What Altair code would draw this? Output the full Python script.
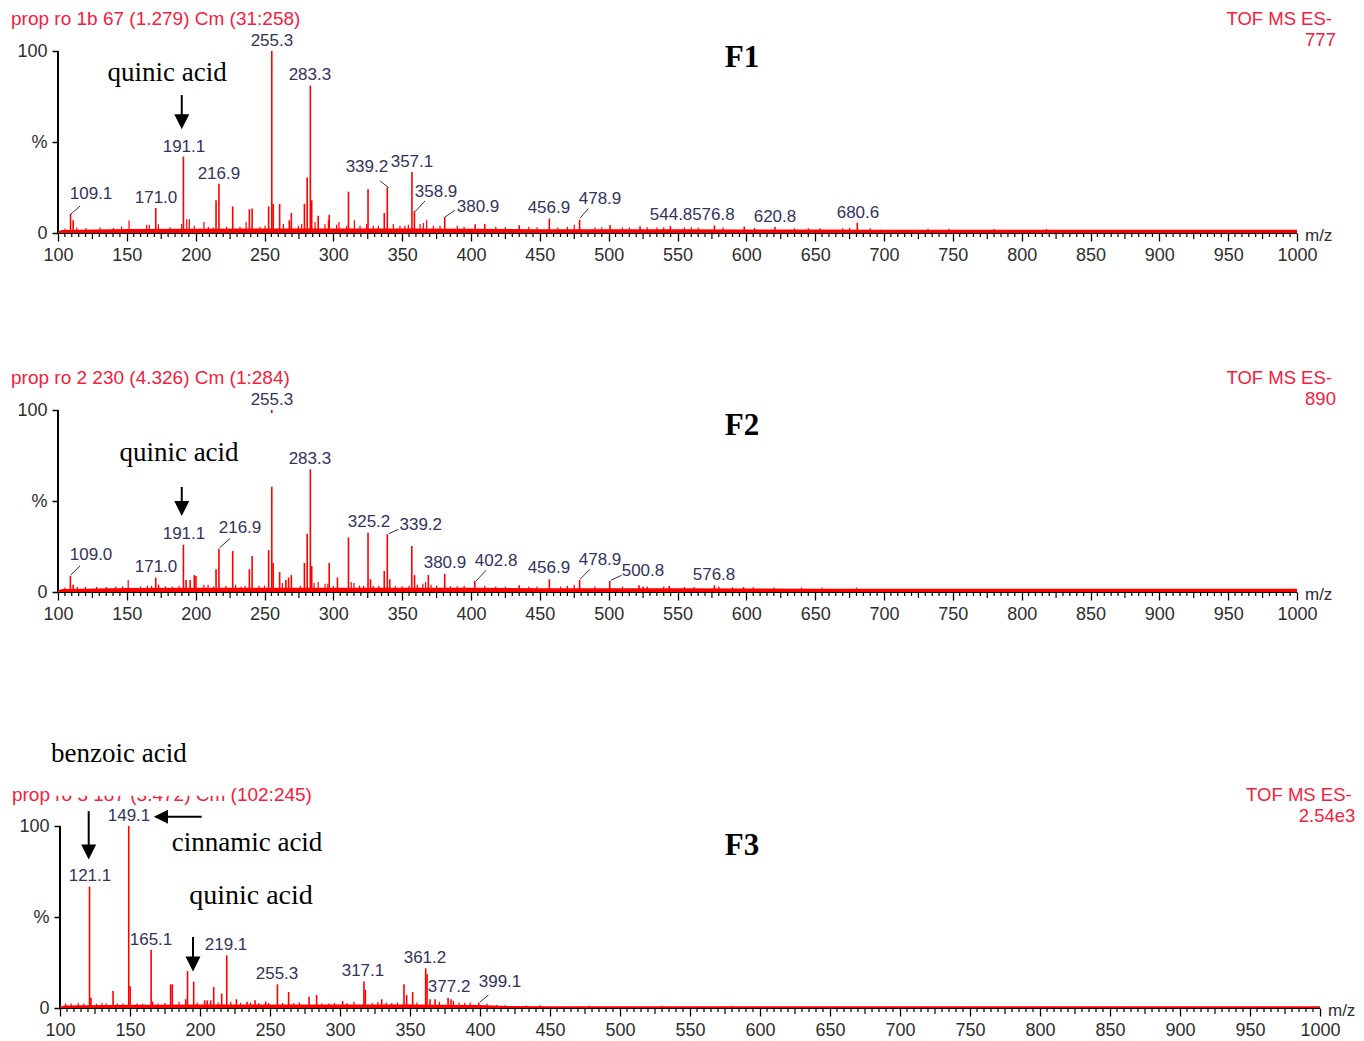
import altair as alt
import pandas as pd

RED = "#ff0000"
TITLE_RED = "#f4203e"
LABEL_COL = "#33335c"
AXIS_COL = "#2e2e2e"
SANS = "Liberation Sans"
SERIF = "Liberation Serif"

x_label_values = list(range(100, 1001, 50))
x_minor_ticks = [v for v in range(105, 1000, 5) if v % 50 != 0]
y_tick_values = [0, 50, 100]

# ---------------- F1 ----------------
f1_peaks = [(109.1, 10.5), (111.0, 7.0), (171.0, 13.7), (191.1, 42.0), (214.8, 18.0), (216.9, 27.0),
            (226.9, 14.6), (239.0, 13.0), (241.0, 13.5), (253.0, 14.6), (255.3, 100.0), (256.3, 16.0),
            (261.0, 16.0), (268.0, 7.0), (269.5, 11.0), (279.0, 16.0), (281.0, 30.5), (283.3, 81.0),
            (284.3, 18.0), (289.0, 9.5), (297.0, 10.0), (311.0, 22.7), (325.2, 24.0), (337.0, 11.0),
            (339.2, 25.0), (357.1, 33.5), (358.9, 12.0), (380.9, 8.8), (403.0, 4.8), (410.0, 5.0),
            (435.0, 4.2), (456.9, 7.9), (478.9, 7.3), (501.0, 4.4), (522.8, 3.7), (544.8, 3.8),
            (576.8, 4.2), (598.5, 3.5), (620.8, 3.3), (653.5, 2.5), (680.6, 5.7), (698.0, 1.8)]
f1_minor = [(105.1, 2.5), (113.6, 3.0), (120.3, 2.8), (130.5, 3.0), (140.2, 2.8), (146.2, 3.6), (151.6, 6.8),
            (164.4, 4.5), (166.3, 4.5), (172.9, 4.8), (181.4, 3.2), (189.8, 5.0), (193.5, 7.5), (195.4, 7.5),
            (199.0, 4.0), (206.0, 6.0), (209.2, 3.5), (212.8, 3.0), (222.5, 3.5), (232.2, 3.5), (236.6, 6.0),
            (246.7, 3.5), (250.4, 4.0), (263.7, 5.0), (274.6, 4.0), (277.0, 5.0), (286.7, 6.0), (293.9, 5.0),
            (296.4, 7.0), (302.4, 4.5), (304.1, 6.0), (309.7, 4.0), (315.3, 7.0), (319.4, 4.0), (324.2, 5.0),
            (329.0, 4.0), (332.7, 4.0), (343.6, 5.0), (348.4, 4.0), (352.0, 4.0), (354.5, 4.5), (363.0, 5.0),
            (365.4, 5.5), (367.8, 7.0), (372.6, 4.0), (377.5, 4.0), (390.0, 4.0), (395.0, 3.5), (418.0, 3.5),
            (425.0, 3.2), (442.0, 3.5), (448.0, 3.2), (463.0, 3.0), (470.0, 3.5), (475.0, 4.5), (490.0, 3.0),
            (495.0, 3.2), (510.0, 3.0), (515.0, 3.0), (528.0, 3.2), (535.0, 3.0), (540.0, 3.2), (555.0, 3.0),
            (560.0, 3.2), (565.0, 3.0), (583.0, 3.0), (606.0, 2.8), (635.0, 2.6), (645.0, 2.6), (670.0, 2.6),
            (675.0, 2.8), (690.0, 2.6), (732.0, 2.4), (747.0, 2.4), (780.0, 2.3), (818.0, 2.3)]
f1_noise_mz = [100, 103, 150, 200, 250, 300, 350, 400, 450, 500, 550, 600, 650, 700, 750, 800, 850, 900, 950, 1000]
f1_noise_h = [0.8, 1.6, 2.2, 2.4, 2.5, 2.5, 2.5, 2.3, 2.1, 2.0, 2.0, 1.9, 1.9, 1.8, 1.8, 1.8, 1.8, 1.8, 1.8, 1.8]
f1_labels = [("255.3", 255.4, 105.5), ("283.3", 283.0, 86.8), ("191.1", 191.5, 47.3), ("216.9", 216.9, 32.4),
             ("109.1", 124.0, 21.4), ("171.0", 171.2, 19.2), ("339.2", 324.4, 36.3), ("357.1", 357.1, 39.0),
             ("358.9", 374.6, 22.5), ("380.9", 405.1, 14.3), ("456.9", 456.6, 13.7), ("478.9", 493.7, 18.7),
             ("544.8", 545.3, 9.9), ("576.8", 576.1, 9.9), ("620.8", 620.8, 8.8), ("680.6", 681.1, 11.0)]
f1_leaders = [(109.2, 10.3, 116.0, 14.8), (333.9, 28.6, 340.2, 24.9), (359.3, 11.7, 366.6, 17.6),
              (381.1, 8.8, 388.4, 12.5), (479.2, 8.1, 485.2, 13.4)]
f1_notes = [("quinic acid", 179.2, 87.9, 27)]
f1_shafts = [(189.9, 75.8, 189.9, 61.1)]
f1_heads = [(189.9, 61.1, "M-1,-1L1,-1L0,1Z", 225)]
f1_titles_left = [("prop ro 1b 67 (1.279) Cm (31:258)", 65.86, 117.6)]
f1_titles_right = [("TOF MS ES-", 1025.4, 117.6), ("777", 1028.3, 106.0)]
f1_tag = [("F1", 596.8, 96.2)]
f1_mz_text = [("m/z", 1005.8, -1.6)]
f1_masks = []

# ---------------- F2 ----------------
f2_peaks = [(109.0, 8.8), (111.0, 4.0), (171.0, 7.9), (173.0, 4.0), (191.1, 26.0), (193.0, 6.6), (196.0, 6.6),
            (199.0, 9.3), (200.2, 8.8), (214.8, 12.5), (216.9, 23.8), (226.9, 22.5), (239.0, 12.5),
            (241.0, 19.8), (253.0, 23.0), (255.3, 100.0), (256.3, 16.0), (261.0, 11.0), (265.5, 6.6),
            (267.5, 8.0), (269.5, 9.3), (279.0, 16.0), (281.0, 32.0), (283.3, 67.4), (284.3, 14.3),
            (297.0, 16.0), (303.0, 8.0), (311.0, 30.0), (325.2, 32.6), (327.0, 7.0), (337.0, 11.5),
            (339.2, 31.7), (341.0, 7.0), (357.0, 25.3), (359.0, 9.3), (369.0, 9.3), (380.9, 10.0),
            (402.8, 6.0), (435.0, 3.7), (456.9, 7.0), (478.9, 6.6), (500.8, 6.0), (522.0, 3.7), (525.0, 3.0),
            (544.0, 3.3), (576.8, 3.7), (598.0, 2.7)]
f2_minor = [(105, 2.5), (114, 2.8), (120, 2.8), (128, 2.8), (135, 2.8), (142, 3.0), (147, 3.2), (151, 6.6),
            (160, 3.0), (165, 3.5), (168, 3.5), (178, 3.2), (183, 3.0), (188, 3.5), (206, 4.0), (209, 4.0),
            (213, 3.0), (222, 3.5), (229, 4.0), (233, 3.0), (236, 3.5), (246, 3.5), (250, 3.5), (263, 5.0),
            (276, 3.5), (286, 5.0), (289, 5.5), (294, 4.5), (296, 4.5), (300, 3.5), (313, 5.5), (315, 5.0),
            (319, 3.5), (322, 3.5), (329, 3.5), (333, 3.5), (345, 3.5), (350, 3.2), (355, 3.5), (361, 4.0),
            (365, 4.5), (367, 5.5), (371, 4.0), (375, 3.5), (385, 3.2), (390, 3.2), (395, 3.5), (410, 3.5),
            (418, 3.0), (425, 3.0), (442, 3.0), (448, 3.0), (465, 3.0), (470, 3.5), (475, 4.0), (490, 3.0),
            (510, 3.0), (528, 3.0), (540, 3.0), (555, 2.8), (562, 2.8), (580, 3.0), (590, 2.6), (605, 2.6),
            (620, 2.5), (640, 2.4), (655, 2.4), (680, 2.4)]
f2_noise_mz = [100, 103, 150, 200, 250, 300, 350, 400, 450, 500, 550, 600, 650, 700, 750, 800, 850, 900, 950, 1000]
f2_noise_h = [0.8, 1.6, 2.2, 2.4, 2.4, 2.4, 2.4, 2.3, 2.1, 2.0, 2.0, 1.9, 1.8, 1.8, 1.8, 1.8, 1.8, 1.8, 1.8, 1.8]
f2_labels = [("255.3", 255.4, 105.5), ("283.3", 283.0, 73.1), ("191.1", 191.5, 31.9), ("216.9", 232.2, 35.2),
             ("109.0", 124.0, 20.3), ("171.0", 171.2, 13.7), ("325.2", 325.9, 38.5), ("339.2", 363.5, 36.8),
             ("380.9", 381.1, 15.9), ("402.8", 418.2, 17.0), ("456.9", 456.6, 13.2), ("478.9", 493.7, 17.6),
             ("500.8", 524.9, 11.5), ("576.8", 576.5, 9.3)]
f2_leaders = [(109.2, 9.3, 116.0, 14.3), (217.4, 24.3, 224.9, 29.3), (340.2, 32.0, 347.2, 34.4),
              (403.6, 6.0, 410.9, 11.9), (479.2, 7.0, 486.4, 12.5), (501.4, 6.4, 509.5, 9.2)]
f2_notes = [("quinic acid", 187.9, 76.4, 27)]
f2_shafts = [(189.9, 57.7, 189.9, 45.9)]
f2_heads = [(189.9, 45.9, "M-1,-1L1,-1L0,1Z", 225)]
f2_titles_left = [("prop ro 2 230 (4.326) Cm (1:284)", 65.86, 117.6)]
f2_titles_right = [("TOF MS ES-", 1025.4, 117.6), ("890", 1028.3, 106.0)]
f2_tag = [("F2", 596.8, 91.2)]
f2_mz_text = [("m/z", 1005.8, -1.6)]
f2_masks = [(110.0, 57.8, 262.0, 98.3)]

# ---------------- F3 ----------------
f3_peaks = [(121.1, 66.7), (122.1, 5.7), (137.9, 9.3), (149.1, 100.0), (150.1, 12.0), (165.1, 31.9),
            (166.1, 3.5), (179.0, 13.0), (180.2, 13.0), (189.8, 4.8), (191.1, 20.3), (195.5, 14.5),
            (203.3, 4.2), (205.2, 4.2), (207.6, 4.2), (209.8, 11.5), (215.5, 7.9), (219.1, 29.0), (226.0, 4.8),
            (233.6, 3.5), (239.3, 4.2), (246.9, 3.5), (255.3, 13.0), (263.3, 8.8), (277.9, 6.2), (283.3, 7.1),
            (301.9, 3.8), (317.1, 14.5), (318.1, 10.0), (329.8, 4.8), (345.7, 13.0), (347.6, 7.1),
            (351.9, 8.8), (361.2, 21.8), (362.2, 18.5), (364.3, 4.8), (367.9, 4.8), (377.2, 5.7),
            (379.3, 4.8), (399.1, 3.0)]
f3_minor = [(104, 2.5), (108, 2.5), (113, 2.8), (117, 2.5), (126, 2.3), (130, 2.8), (133, 2.5), (141, 2.5),
            (145, 2.5), (155, 2.5), (159, 2.3), (170, 2.5), (175, 2.8), (185, 3.5), (198, 3.0), (213, 3.0),
            (222, 3.5), (229, 2.8), (236, 3.0), (242, 2.8), (249, 2.8), (259, 2.8), (267, 2.8), (271, 3.0),
            (287, 2.5), (292, 2.5), (296, 2.8), (305, 2.8), (310, 3.5), (323, 2.8), (327, 3.5), (333, 3.0),
            (337, 2.8), (341, 3.0), (355, 3.0), (371, 3.5), (381, 4.0), (385, 3.0), (389, 2.8), (393, 3.0),
            (405, 2.5), (412, 1.6), (418, 1.5), (433, 1.4), (443, 1.5), (478, 1.3), (530, 1.3), (580, 1.2)]
f3_noise_mz = [100, 103, 150, 200, 250, 300, 350, 400, 420, 450, 500, 600, 700, 800, 900, 1000]
f3_noise_h = [0.6, 1.4, 1.8, 1.9, 1.9, 1.9, 1.9, 1.7, 1.1, 1.0, 1.0, 1.0, 1.0, 1.0, 1.0, 1.0]
f3_labels = [("149.1", 149.3, 105.5), ("121.1", 121.4, 72.5), ("165.1", 165.0, 37.4), ("219.1", 218.6, 34.6),
             ("255.3", 255.0, 18.7), ("317.1", 316.4, 20.3), ("361.2", 360.7, 27.5), ("377.2", 377.9, 11.5),
             ("399.1", 414.3, 14.3)]
f3_leaders = [(400.0, 3.3, 406.0, 7.1)]
f3_notes = [("benzoic acid", 142.1, 139.6, 27), ("cinnamic acid", 233.6, 90.7, 27), ("quinic acid", 236.4, 61.5, 28)]
f3_shafts = [(120.5, 108.2, 120.5, 85.7), (195.0, 39.0, 195.0, 24.2), (201.2, 105.1, 172.1, 105.1)]
f3_heads = [(120.5, 85.7, "M-1,-1L1,-1L0,1Z", 225), (195.0, 24.2, "M-1,-1L1,-1L0,1Z", 225),
            (172.1, 105.1, "M1,-1L1,1L-1,0Z", 200)]
f3_titles_left = [("prop ro 3 187 (3.472) Cm (102:245)", 65.7, 117.0)]
f3_titles_right = [("TOF MS ES-", 1022.6, 117.0), ("2.54e3", 1025.3, 105.5)]
f3_tag = [("F3", 587.1, 89.0)]
f3_mz_text = [("m/z", 1005.7, -1.6)]
f3_masks = [(162.9, 39.6, 292.9, 75.0)]
f3_title_masks = [(95.0, 116.6, 220.5, 126.0)]


def panel(p):
    xs = alt.Scale(domain=p["xdom"], nice=False, zero=False)
    ys = alt.Scale(domain=[0, p["ymax"]], nice=False, zero=False)

    def X(f, axis=alt.Undefined):
        return alt.X(f, type="quantitative", scale=xs, axis=axis)

    def Y(f, axis=alt.Undefined):
        return alt.Y(f, type="quantitative", scale=ys, axis=axis)

    xaxis = alt.Axis(values=x_label_values, domain=False, grid=False, ticks=True, tickColor="black",
                     tickWidth=1.3, tickSize=8, labelPadding=5, labelFont=SANS, labelFontSize=18,
                     labelColor=AXIS_COL, labelOverlap=False, labelFlush=False, title=None, format="d")
    yaxis = alt.Axis(values=y_tick_values, labelExpr="datum.value === 50 ? '%' : datum.label",
                     domain=False, grid=False, tickSize=6, tickWidth=1.5, tickColor="black",
                     labelPadding=5, labelFont=SANS, labelFontSize=18, labelColor=AXIS_COL,
                     title=None, offset=p["yoff"], format="d")

    def seg_df(rows):
        return pd.DataFrame(rows, columns=["x1", "y1", "x2", "y2"])

    def txt_df(rows):
        return pd.DataFrame(rows, columns=["text", "mz", "pct"])

    layers = []
    axl = seg_df([(100, 0, 1000, 0), (100, 0, 100, 100)])
    layers.append(alt.Chart(axl).mark_rule(color="black", strokeWidth=2).encode(
        x=X("x1", xaxis), x2="x2:Q", y=Y("y1", yaxis), y2="y2:Q"))

    # minor / medium tick marks below the m/z axis (length in % units of this panel)
    ticks = pd.DataFrame({"mz": x_minor_ticks,
                          "len": [-(6 if v % 25 == 0 else 4) / 1.82 for v in x_minor_ticks]})
    layers.append(alt.Chart(ticks).mark_rule(color="black", strokeWidth=1.2).encode(
        x=X("mz"), y=Y("len"), y2=alt.datum(0)))

    noise = pd.DataFrame({"mz": p["noise_mz"], "h": p["noise_h"]})
    layers.append(alt.Chart(noise).mark_area(color=RED, opacity=1).encode(
        x=X("mz"), y=Y("h"), y2=alt.datum(0)))

    minor = pd.DataFrame(p["minor"], columns=["mz", "int"])
    layers.append(alt.Chart(minor).mark_rule(color=RED, strokeWidth=1.2).encode(
        x=X("mz"), y=Y("int"), y2=alt.datum(0)))

    peaks = pd.DataFrame(p["peaks"], columns=["mz", "int"])
    layers.append(alt.Chart(peaks).mark_rule(color=RED, strokeWidth=1.6).encode(
        x=X("mz"), y=Y("int"), y2=alt.datum(0)))

    if p["masks"]:
        layers.append(alt.Chart(seg_df(p["masks"])).mark_rect(color="white", opacity=1).encode(
            x=X("x1"), x2="x2:Q", y=Y("y1"), y2="y2:Q"))

    layers.append(alt.Chart(seg_df(p["leaders"])).mark_rule(color="#333333", strokeWidth=1).encode(
        x=X("x1"), x2="x2:Q", y=Y("y1"), y2="y2:Q"))

    layers.append(alt.Chart(txt_df(p["labels"])).mark_text(
        font=SANS, fontSize=17, color=LABEL_COL, align="center", baseline="middle").encode(
        x=X("mz"), y=Y("pct"), text="text:N"))

    notes = pd.DataFrame(p["notes"], columns=["text", "mz", "pct", "fs"])
    layers.append(alt.Chart(notes).mark_text(
        font=SERIF, color="black", align="center", baseline="middle").encode(
        x=X("mz"), y=Y("pct"), text="text:N", size=alt.Size("fs:Q", scale=None)))

    layers.append(alt.Chart(seg_df(p["shafts"])).mark_rule(color="black", strokeWidth=2).encode(
        x=X("x1"), x2="x2:Q", y=Y("y1"), y2="y2:Q"))

    heads = pd.DataFrame(p["heads"], columns=["mz", "pct", "shape", "size"])
    layers.append(alt.Chart(heads).mark_point(filled=True, color="black", opacity=1, strokeWidth=0).encode(
        x=X("mz"), y=Y("pct"), shape=alt.Shape("shape:N", scale=None),
        size=alt.Size("size:Q", scale=None)))

    layers.append(alt.Chart(txt_df(p["titles_left"])).mark_text(
        font=SANS, fontSize=19, color=TITLE_RED, align="left", baseline="middle").encode(
        x=X("mz"), y=Y("pct"), text="text:N"))
    layers.append(alt.Chart(txt_df(p["titles_right"])).mark_text(
        font=SANS, fontSize=18.5, color=TITLE_RED, align="right", baseline="middle").encode(
        x=X("mz"), y=Y("pct"), text="text:N"))

    if p.get("title_masks"):
        layers.append(alt.Chart(seg_df(p["title_masks"])).mark_rect(color="white", opacity=1).encode(
            x=X("x1"), x2="x2:Q", y=Y("y1"), y2="y2:Q"))

    layers.append(alt.Chart(txt_df(p["tag"])).mark_text(
        font=SERIF, fontSize=31, fontWeight="bold", color="black", align="center", baseline="middle").encode(
        x=X("mz"), y=Y("pct"), text="text:N"))

    layers.append(alt.Chart(txt_df(p["mz_text"])).mark_text(
        font=SANS, fontSize=17, color=AXIS_COL, align="left", baseline="middle").encode(
        x=X("mz"), y=Y("pct"), text="text:N"))

    return alt.layer(*layers).properties(width=p["width"], height=p["height"])


P1 = dict(xdom=[100, 1000], ymax=224 / 1.82, width=1239, height=224, yoff=0,
          peaks=f1_peaks, minor=f1_minor, noise_mz=f1_noise_mz, noise_h=f1_noise_h, labels=f1_labels,
          leaders=f1_leaders, notes=f1_notes, shafts=f1_shafts, heads=f1_heads,
          titles_left=f1_titles_left, titles_right=f1_titles_right, tag=f1_tag, mz_text=f1_mz_text,
          masks=f1_masks)
P2 = dict(xdom=[100, 1000], ymax=229 / 1.82, width=1239, height=229, yoff=0,
          peaks=f2_peaks, minor=f2_minor, noise_mz=f2_noise_mz, noise_h=f2_noise_h, labels=f2_labels,
          leaders=f2_leaders, notes=f2_notes, shafts=f2_shafts, heads=f2_heads,
          titles_left=f2_titles_left, titles_right=f2_titles_right, tag=f2_tag, mz_text=f2_mz_text,
          masks=f2_masks)
P3 = dict(xdom=[100 - 2 / 1.4, 1000], ymax=286 / 1.82, width=1262, height=286, yoff=-2,
          peaks=f3_peaks, minor=f3_minor, noise_mz=f3_noise_mz, noise_h=f3_noise_h, labels=f3_labels,
          leaders=f3_leaders, notes=f3_notes, shafts=f3_shafts, heads=f3_heads,
          titles_left=f3_titles_left, titles_right=f3_titles_right, tag=f3_tag, mz_text=f3_mz_text,
          masks=f3_masks, title_masks=f3_title_masks)

chart = alt.vconcat(panel(P1), panel(P2), panel(P3), spacing=99).properties(
    padding={"left": 3, "top": 1, "right": 0, "bottom": 0}, background="white"
).configure_view(strokeWidth=0)

chart.save("out.html", embed_options={"renderer": "svg", "actions": False})
